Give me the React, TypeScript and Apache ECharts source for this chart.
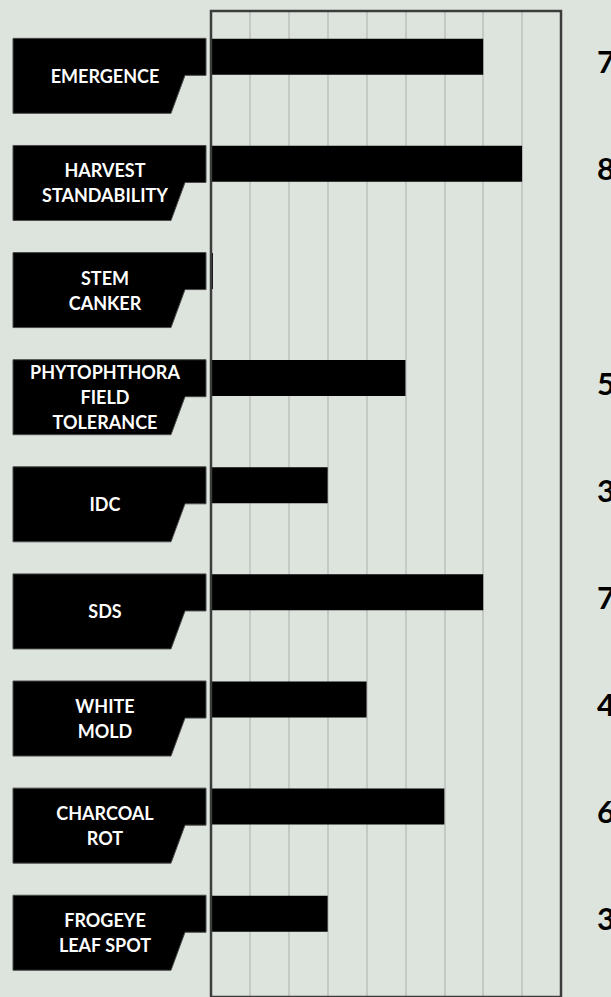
import React, { useEffect, useRef } from "react";
import * as echarts from "echarts";

const traitLabels: string[] = [
  "EMERGENCE",
  "HARVEST\nSTANDABILITY",
  "STEM\nCANKER",
  "PHYTOPHTHORA\nFIELD\nTOLERANCE",
  "IDC",
  "SDS",
  "WHITE\nMOLD",
  "CHARCOAL\nROT",
  "FROGEYE\nLEAF SPOT",
];
const scores: number[] = [7, 8, 0.05, 5, 3, 7, 4, 6, 3];
const scoreLabels: string[] = ["7", "8", "", "5", "3", "7", "4", "6", "3"];
const axisMin = 0;
const axisMax = 9;
const axisInterval = 1;

export default function App() {
  const ref = useRef<HTMLDivElement>(null);
  useEffect(() => {
    if (!ref.current) return;
    const chart = echarts.init(ref.current, undefined, { renderer: "svg" });
    const BAR_H = 36;
    const option: any = {
      animation: false,
      backgroundColor: "#dce4dd",
      grid: [
        {
          left: 211,
          width: 350,
          top: 11,
          bottom: -40,
          show: true,
          borderColor: "#3c3c3c",
          borderWidth: 2.5,
          backgroundColor: "transparent",
          z: 5,
        },
        { left: 211, width: 350, top: 3.2, height: 964 },
      ],
      xAxis: [
        {
          gridIndex: 0,
          type: "value",
          min: axisMin,
          max: axisMax,
          interval: axisInterval,
          axisLine: { show: false },
          axisTick: { show: false },
          axisLabel: { show: false },
          splitLine: {
            show: true,
            showMinLine: false,
            showMaxLine: false,
            lineStyle: { color: "#bcc0bc", width: 1.5 },
          },
        },
        {
          gridIndex: 1,
          type: "value",
          min: axisMin,
          max: axisMax,
          interval: axisInterval,
          show: false,
          splitLine: { show: false },
        },
      ],
      yAxis: [
        { gridIndex: 0, type: "value", min: 0, max: 1, show: false, splitLine: { show: false } },
        {
          gridIndex: 1,
          type: "category",
          inverse: true,
          data: traitLabels,
          show: false,
        },
      ],
      series: [
        {
          type: "bar",
          xAxisIndex: 1,
          yAxisIndex: 1,
          data: scores,
          barWidth: BAR_H,
          itemStyle: { color: "#000000" },
          z: 3,
        },
        {
          type: "custom",
          xAxisIndex: 1,
          yAxisIndex: 1,
          clip: false,
          z: 4,
          data: traitLabels.map((_, i) => [0, i]),
          renderItem: (params: any, api: any) => {
            const idx = api.value(1);
            const pt = api.coord([0, idx]);
            const yc = pt[1];
            const top = yc - BAR_H / 2 - 0.4;
            const mid = top + 37;
            const bot = top + 75;
            return {
              type: "group",
              children: [
                {
                  type: "polygon",
                  shape: {
                    points: [
                      [13, top],
                      [206, top],
                      [206, mid],
                      [185, mid],
                      [171, bot],
                      [13, bot],
                    ],
                  },
                  style: { fill: "#000000", stroke: "#4a4a4a", lineWidth: 1 },
                },
                {
                  type: "text",
                  x: 105,
                  y: top + 37.5,
                  style: {
                    text: traitLabels[idx],
                    fill: "#ffffff",
                    font: "bold 18px Lato",
                    align: "center",
                    verticalAlign: "middle",
                    lineHeight: 25,
                  },
                },
                {
                  type: "text",
                  x: 597,
                  y: yc + 4.5,
                  style: {
                    text: scoreLabels[idx],
                    fill: "#000000",
                    font: "bold 31px Lato",
                    align: "left",
                    verticalAlign: "middle",
                  },
                },
              ],
            };
          },
        },
      ],
    };
    chart.setOption(option);
    return () => chart.dispose();
  }, []);
  return <div ref={ref} style={{ width: 611, height: 997, position: "absolute", left: 0, top: 0 }} />;
}
